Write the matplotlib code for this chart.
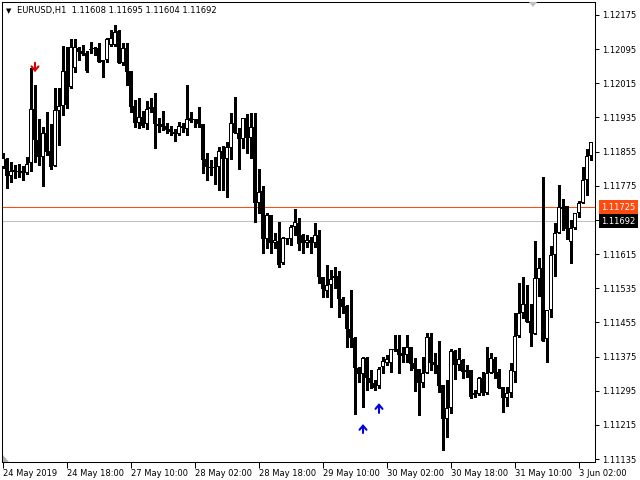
import numpy as np
import matplotlib
matplotlib.use("Agg")
import matplotlib.pyplot as plt
from matplotlib.patches import Polygon

plt.rcParams['font.family'] = ['DejaVu Sans']

# chart header
symbol = "EURUSD,H1"
header_ohlc = "1.11608 1.11695 1.11604 1.11692"

# H1 candles, prices in points (1e-5)
opens = [111819, 111838, 111798, 111812, 111810, 111810, 111805, 111828, 111955, 111882,
         111842, 111899, 111856, 111821, 111950, 111962, 112044, 112006, 112051, 112098,
         112091, 112086, 112095, 112095, 112098, 112070, 112070, 112105, 112105, 112138,
         112063, 112098, 112044, 111962, 111922, 111936, 111920, 111955, 111960, 111920,
         111920, 111915, 111908, 111901, 111896, 111915, 111908, 111934, 111929, 111931,
         111920, 111838, 111819, 111817, 111819, 111856, 111838, 111864, 111922, 111899,
         111885, 111934, 111887, 111913, 111735, 111763, 111650, 111707, 111641, 111646,
         111594, 111650, 111650, 111678, 111688, 111660, 111641, 111648, 111641, 111660,
         111561, 111529, 111543, 111559, 111564, 111510, 111493, 111440, 111418, 111348,
         111334, 111372, 111325, 111313, 111306, 111350, 111360, 111360, 111390, 111393,
         111383, 111379, 111397, 111360, 111346, 111313, 111336, 111421, 111362, 111355,
         111308, 111229, 111255, 111388, 111355, 111367, 111343, 111343, 111290, 111287,
         111325, 111290, 111336, 111369, 111339, 111304, 111278, 111290, 111339, 111423,
         111477, 111498, 111458, 111428, 111557, 111582, 111416, 111484, 111613, 111664,
         111725, 111728, 111643, 111676, 111711, 111735, 111789, 111845]
highs = [111852, 111840, 111831, 111824, 111826, 111821, 111842, 112051, 112011, 111931,
         111913, 111948, 111920, 112004, 112004, 112102, 112100, 112119, 112119, 112100,
         112105, 112091, 112112, 112100, 112109, 112070, 112121, 112140, 112152, 112140,
         112109, 112109, 112044, 111976, 111981, 111950, 111974, 111981, 111992, 111934,
         111950, 111922, 111915, 111908, 111924, 111922, 112011, 111948, 111931, 111960,
         111920, 111852, 111835, 111842, 111866, 111868, 111878, 111945, 111983, 111910,
         111934, 111943, 111945, 111945, 111814, 111774, 111711, 111707, 111664, 111690,
         111655, 111653, 111683, 111721, 111700, 111662, 111660, 111655, 111688, 111671,
         111561, 111589, 111578, 111585, 111575, 111515, 111496, 111531, 111421, 111350,
         111374, 111374, 111343, 111320, 111350, 111374, 111379, 111393, 111425, 111425,
         111397, 111425, 111397, 111372, 111346, 111374, 111430, 111430, 111383, 111411,
         111308, 111320, 111393, 111390, 111395, 111369, 111355, 111343, 111297, 111327,
         111339, 111397, 111383, 111374, 111346, 111304, 111304, 111360, 111477, 111547,
         111561, 111543, 111498, 111646, 111606, 111796, 111484, 111634, 111688, 111777,
         111744, 111728, 111695, 111711, 111739, 111819, 111861, 111878]
lows = [111817, 111770, 111784, 111793, 111796, 111789, 111803, 111810, 111831, 111824,
        111774, 111847, 111814, 111821, 111871, 111941, 111957, 112004, 112041, 112070,
        112081, 112041, 112086, 112081, 112065, 112030, 112065, 112102, 112102, 112063,
        112058, 112011, 111948, 111913, 111910, 111913, 111908, 111948, 111864, 111901,
        111906, 111899, 111894, 111880, 111894, 111901, 111894, 111924, 111913, 111913,
        111805, 111789, 111800, 111779, 111765, 111765, 111749, 111838, 111899, 111814,
        111864, 111852, 111840, 111690, 111711, 111618, 111629, 111618, 111629, 111585,
        111592, 111639, 111636, 111660, 111625, 111618, 111632, 111618, 111632, 111547,
        111515, 111515, 111491, 111536, 111468, 111477, 111397, 111397, 111240, 111315,
        111257, 111297, 111301, 111297, 111301, 111336, 111355, 111339, 111388, 111336,
        111362, 111362, 111343, 111294, 111238, 111304, 111336, 111343, 111336, 111292,
        111156, 111187, 111243, 111322, 111343, 111325, 111327, 111278, 111280, 111285,
        111285, 111287, 111336, 111325, 111301, 111245, 111259, 111280, 111315, 111421,
        111465, 111456, 111400, 111428, 111517, 111411, 111362, 111468, 111564, 111664,
        111671, 111650, 111594, 111674, 111702, 111735, 111753, 111835]
closes = [111840, 111798, 111810, 111807, 111807, 111805, 111826, 111955, 111882, 111842,
          111899, 111854, 111819, 111952, 111962, 112044, 111964, 112100, 112100, 112088,
          112084, 112044, 112093, 112098, 112065, 112065, 112119, 112121, 112135, 112063,
          112098, 112041, 111960, 111922, 111936, 111915, 111955, 111960, 111920, 111915,
          111913, 111906, 111901, 111896, 111915, 111910, 111931, 111927, 111931, 111920,
          111835, 111819, 111817, 111819, 111856, 111838, 111866, 111922, 111899, 111885,
          111934, 111887, 111913, 111735, 111760, 111650, 111707, 111641, 111648, 111589,
          111653, 111653, 111678, 111690, 111639, 111641, 111648, 111641, 111660, 111561,
          111533, 111543, 111557, 111564, 111510, 111491, 111440, 111418, 111348, 111334,
          111372, 111325, 111313, 111301, 111346, 111365, 111369, 111393, 111393, 111379,
          111376, 111397, 111358, 111346, 111313, 111336, 111421, 111360, 111355, 111306,
          111229, 111255, 111388, 111355, 111369, 111339, 111339, 111280, 111285, 111325,
          111290, 111336, 111372, 111336, 111301, 111278, 111290, 111343, 111423, 111477,
          111498, 111456, 111430, 111559, 111582, 111411, 111484, 111613, 111664, 111725,
          111721, 111674, 111676, 111711, 111735, 111789, 111845, 111878]

date_ticks = [0, 16, 32, 48, 64, 80, 96, 112, 128, 144]
date_labels = ["24 May 2019", "24 May 18:00", "27 May 10:00", "28 May 02:00", "28 May 18:00",
               "29 May 10:00", "30 May 02:00", "30 May 18:00", "31 May 10:00", "3 Jun 02:00"]
price_ticks = [1.11135, 1.11215, 1.11295, 1.11375, 1.11455, 1.11535, 1.11615,
               1.11695, 1.11775, 1.11855, 1.11935, 1.12015, 1.12095, 1.12175]

ask_price = 1.11725
bid_price = 1.11692

# signal arrows: (bar, tip price, tail price)
sell_arrows = [(8, 1.12041, 1.12063)]
buy_arrows = [(90, 1.11217, 1.11196), (94, 1.11266, 1.11243)]

o = np.array(opens) / 1e5
h = np.array(highs) / 1e5
l = np.array(lows) / 1e5
c = np.array(closes) / 1e5
idx = np.arange(len(o))
up = c >= o

fig = plt.figure(figsize=(6.4, 4.8), dpi=100)
ax = fig.add_axes([2 / 640, 18 / 480, 593 / 640, 460 / 480])

ax.set_xlim(-0.25, 148)
ax.set_ylim(1.11128, 1.122054)
px = (1.122054 - 1.11128) / 460  # price of one screen pixel

ax.axhline(ask_price, color='#ff4a10', lw=0.75, zorder=1)
ax.axhline(bid_price, color='#c0c0c0', lw=0.75, zorder=1)

# wicks, then a solid black body; up candles get a hollow white core
ax.vlines(idx, l, h, color='black', lw=0.75, zorder=2, antialiased=False)
body_lo = np.minimum(o, c)
body_h = np.maximum(np.abs(c - o), px)
ax.bar(idx, body_h, bottom=body_lo, width=0.78, color='black', lw=0,
       zorder=3, antialiased=False)
hollow = up & (body_h > 2.5 * px)
ax.bar(idx[hollow], body_h[hollow] - 2 * px, bottom=body_lo[hollow] + px, width=0.27,
       color='white', lw=0, zorder=4, antialiased=False)

for bar, tip, tail in sell_arrows:
    ax.annotate('', xy=(bar, tip), xytext=(bar, tail),
                arrowprops=dict(arrowstyle='->,head_length=0.3,head_width=0.25', color='#e00000',
                                lw=1.5, shrinkA=0, shrinkB=0))
for bar, tip, tail in buy_arrows:
    ax.annotate('', xy=(bar, tip), xytext=(bar, tail),
                arrowprops=dict(arrowstyle='->,head_length=0.3,head_width=0.25', color='#0000e0',
                                lw=1.5, shrinkA=0, shrinkB=0))

ax.yaxis.tick_right()
ax.set_yticks(price_ticks)
ax.set_yticklabels([f"{p:.5f}" for p in price_ticks])
ax.tick_params(axis='y', direction='out', length=3, width=0.75, pad=2, labelsize=6)
ax.set_xticks(date_ticks)
ax.set_xticklabels(date_labels, ha='left')
ax.tick_params(axis='x', direction='out', length=4, width=0.75, pad=1, labelsize=6)
for s in ax.spines.values():
    s.set_linewidth(0.75)

# price labels on the axis
ax.annotate(f"{ask_price:.5f}", xy=(1.0 + 6 / 593, ask_price), xycoords=('axes fraction', 'data'),
            ha='left', va='center', fontsize=6, color='white', annotation_clip=False,
            bbox=dict(boxstyle='square,pad=0.3', fc='#ff4a10', ec='none'))
ax.annotate(f"{bid_price:.5f}", xy=(1.0 + 6 / 593, bid_price), xycoords=('axes fraction', 'data'),
            ha='left', va='center', fontsize=6, color='white', annotation_clip=False,
            bbox=dict(boxstyle='square,pad=0.3', fc='black', ec='none'))

# header
fig.text(6 / 640, 1 - 11 / 480, '▼', fontsize=5, va='center')
fig.text(17 / 640, 1 - 11 / 480, f"{symbol}  {header_ohlc}", fontsize=6, va='center')

# little grey corner markers
fig.patches.append(Polygon([[3 / 640, 1 - 455 / 480], [3 / 640, 1 - 462 / 480], [9 / 640, 1 - 462 / 480]],
                           closed=True, fc='#b0b0b0', ec='none', transform=fig.transFigure))
fig.patches.append(Polygon([[529 / 640, 1 - 2 / 480], [537 / 640, 1 - 2 / 480], [533 / 640, 1 - 7 / 480]],
                           closed=True, fc='#c0c0c0', ec='none', transform=fig.transFigure))

fig.savefig('out.png', dpi=100)
